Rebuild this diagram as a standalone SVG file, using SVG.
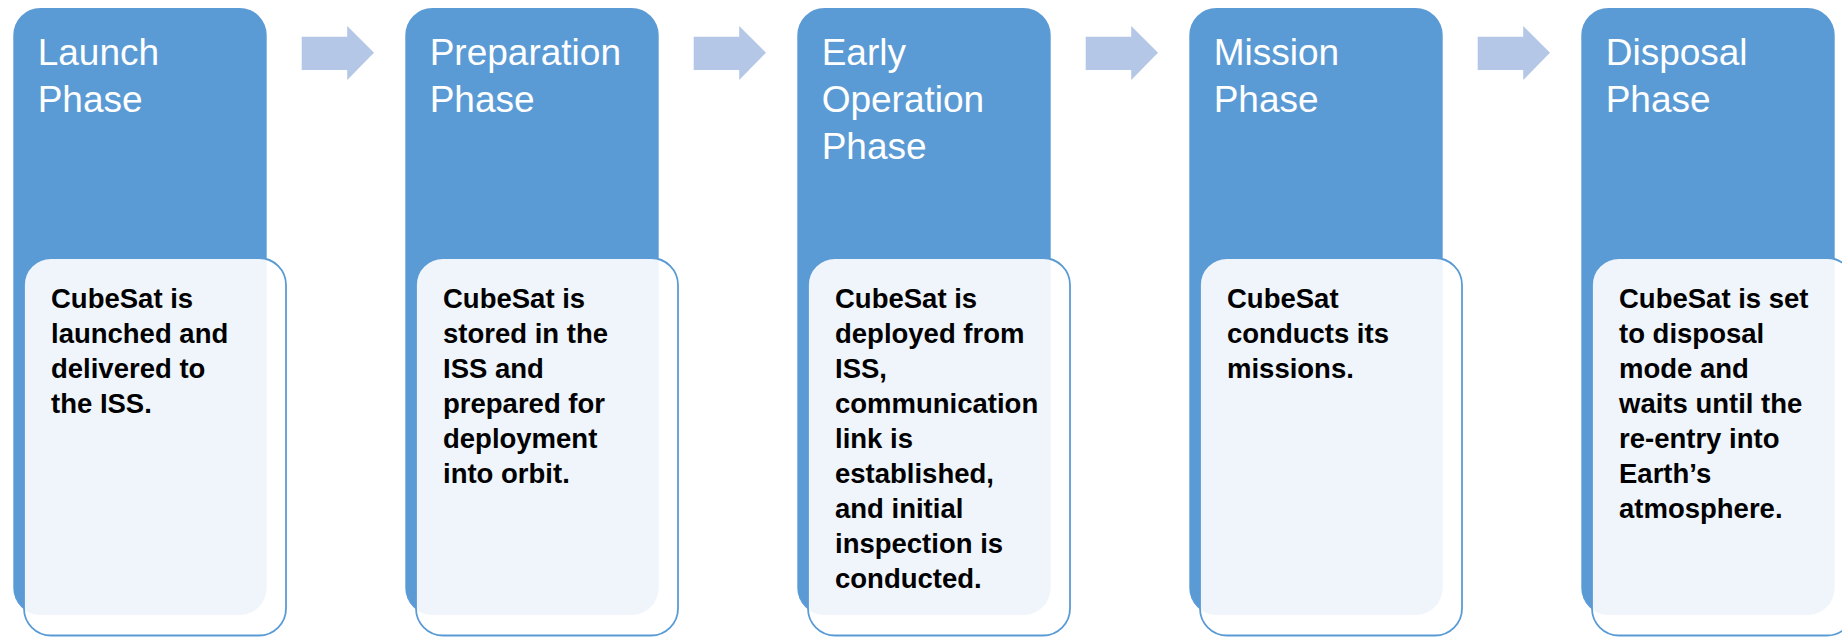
<svg xmlns="http://www.w3.org/2000/svg" width="1842" height="637" viewBox="0 0 1842 637">
<style>
.phase{fill:#5B9BD5;}
.card{fill:#FFFFFF;fill-opacity:0.9;stroke:#5B9BD5;stroke-width:1.8;}
.title{font-family:"Liberation Sans",Arial,sans-serif;font-size:37px;fill:#FFFFFF;}
.body{font-family:"Liberation Sans",Arial,sans-serif;font-size:27.5px;font-weight:bold;fill:#000000;}
.arrow{fill:#B4C7E7;}
</style>
<defs>
<polygon id="arr" class="arrow" points="0,10.7 45.5,10.7 45.5,0 72.3,26.7 45.5,54 45.5,44 0,44"/>
</defs>
<rect width="1842" height="637" fill="#FFFFFF"/>
<g id="connectors">
<use href="#arr" x="301.7" y="26"/>
<use href="#arr" x="693.7" y="26"/>
<use href="#arr" x="1085.7" y="26"/>
<use href="#arr" x="1477.7" y="26"/>
</g>
<g id="launch">
<rect class="phase" x="13.3" y="8" width="253.4" height="607" rx="27"/>
<text class="title" x="37.7" y="65">Launch</text>
<text class="title" x="37.7" y="112">Phase</text>
<rect class="card" x="24" y="258" width="262" height="377.5" rx="27"/>
<text class="body" x="51" y="308">CubeSat is</text>
<text class="body" x="51" y="343">launched and</text>
<text class="body" x="51" y="378">delivered to</text>
<text class="body" x="51" y="413">the ISS.</text>
</g>
<g id="preparation">
<rect class="phase" x="405.3" y="8" width="253.4" height="607" rx="27"/>
<text class="title" x="429.7" y="65">Preparation</text>
<text class="title" x="429.7" y="112">Phase</text>
<rect class="card" x="416" y="258" width="262" height="377.5" rx="27"/>
<text class="body" x="443" y="308">CubeSat is</text>
<text class="body" x="443" y="343">stored in the</text>
<text class="body" x="443" y="378">ISS and</text>
<text class="body" x="443" y="413">prepared for</text>
<text class="body" x="443" y="448">deployment</text>
<text class="body" x="443" y="483">into orbit.</text>
</g>
<g id="early-operation">
<rect class="phase" x="797.3" y="8" width="253.4" height="607" rx="27"/>
<text class="title" x="821.7" y="65">Early</text>
<text class="title" x="821.7" y="112">Operation</text>
<text class="title" x="821.7" y="159">Phase</text>
<rect class="card" x="808" y="258" width="262" height="377.5" rx="27"/>
<text class="body" x="835" y="308">CubeSat is</text>
<text class="body" x="835" y="343">deployed from</text>
<text class="body" x="835" y="378">ISS,</text>
<text class="body" x="835" y="413">communication</text>
<text class="body" x="835" y="448">link is</text>
<text class="body" x="835" y="483">established,</text>
<text class="body" x="835" y="518">and initial</text>
<text class="body" x="835" y="553">inspection is</text>
<text class="body" x="835" y="588">conducted.</text>
</g>
<g id="mission">
<rect class="phase" x="1189.3" y="8" width="253.4" height="607" rx="27"/>
<text class="title" x="1213.7" y="65">Mission</text>
<text class="title" x="1213.7" y="112">Phase</text>
<rect class="card" x="1200" y="258" width="262" height="377.5" rx="27"/>
<text class="body" x="1227" y="308">CubeSat</text>
<text class="body" x="1227" y="343">conducts its</text>
<text class="body" x="1227" y="378">missions.</text>
</g>
<g id="disposal">
<rect class="phase" x="1581.3" y="8" width="253.4" height="607" rx="27"/>
<text class="title" x="1605.7" y="65">Disposal</text>
<text class="title" x="1605.7" y="112">Phase</text>
<rect class="card" x="1592" y="258" width="262" height="377.5" rx="27"/>
<text class="body" x="1619" y="308">CubeSat is set</text>
<text class="body" x="1619" y="343">to disposal</text>
<text class="body" x="1619" y="378">mode and</text>
<text class="body" x="1619" y="413">waits until the</text>
<text class="body" x="1619" y="448">re-entry into</text>
<text class="body" x="1619" y="483">Earth’s</text>
<text class="body" x="1619" y="518">atmosphere.</text>
</g>
</svg>
